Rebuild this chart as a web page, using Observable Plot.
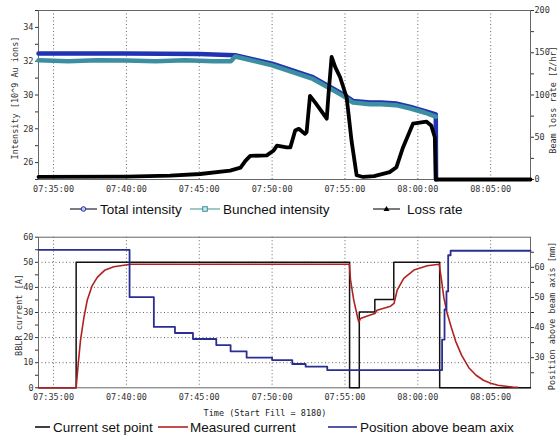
<!DOCTYPE html>
<html><head><meta charset="utf-8">
<script src="https://cdn.jsdelivr.net/npm/d3@7"></script>
<script src="https://cdn.jsdelivr.net/npm/@observablehq/plot@0.6"></script>
<style>
body{margin:0;background:#fff;}
#wrap{position:relative;width:559px;height:436px;overflow:hidden;background:#fff;}
.layer{position:absolute;left:0;}
.ytitle{position:absolute;font:8.5px "DejaVu Sans Mono",monospace;color:#333;white-space:nowrap;transform:translate(-50%,-50%) rotate(-90deg);}
.xtitle{position:absolute;font:8.5px "DejaVu Sans Mono",monospace;color:#222;white-space:nowrap;transform:translate(-50%,-50%);}
</style></head>
<body><div id="wrap"></div>
<script>
// ---------- data ----------
const xDomain = ["07:33:58", "08:07:44"];
const xTicks = ["07:35:00","07:40:00","07:45:00","07:50:00","07:55:00","08:00:00","08:05:00"];

// top panel: intensity [10^9 Au ions]
const totalIntensity = [
  ["07:33:58",32.45],["07:40:00",32.45],["07:45:00",32.42],["07:47:28",32.35],["07:50:00",31.85],
  ["07:52:48",31.05],["07:53:50",30.55],["07:54:52",30.05],["07:55:33",29.65],["07:56:43",29.55],
  ["07:57:30",29.55],["07:58:30",29.5],["07:59:30",29.3],["08:00:30",29.05],["08:01:14",28.85],["08:01:15",25.0]
];
const bunchedIntensity = [
  ["07:33:58",32.05],["07:36:00",32.0],["07:38:00",32.06],["07:40:00",32.04],["07:42:00",32.0],
  ["07:44:00",32.05],["07:46:00",32.0],["07:47:10",32.0],["07:47:28",32.28],["07:50:00",31.75],
  ["07:52:48",30.95],["07:53:50",30.45],["07:54:52",29.95],["07:55:33",29.55],["07:56:43",29.45],
  ["07:57:30",29.45],["07:58:30",29.4],["07:59:30",29.2],["08:00:30",28.95],["08:01:14",28.72]
];
// top panel: beam loss rate [Z/hr]
const lossRate = [
  ["07:33:58",3],["07:40:00",3.5],["07:43:00",4.5],["07:45:04",6.5],["07:47:07",10.5],["07:47:50",14],
  ["07:48:10",22],["07:48:30",28],["07:49:38",28.5],["07:50:05",34],["07:50:20",40],["07:51:00",38],
  ["07:51:15",38],["07:51:35",58],["07:51:50",60],["07:52:15",54],["07:52:22",56],["07:52:36",99],
  ["07:53:00",90],["07:53:45",72],["07:53:52",100],["07:54:05",145],["07:54:20",133],["07:54:40",121],
  ["07:55:07",97],["07:55:27",46],["07:55:48",5],["07:56:15",3],["07:57:00",4],["07:58:04",8.7],
  ["07:58:32",14.6],["07:58:59",38],["07:59:40",66],["08:00:35",68.6],["08:00:55",64],["08:01:10",50],
  ["08:01:14",0],["08:07:44",0]
];

// bottom panel: BBLR current [A]
const setPoint = [
  ["07:33:58",0],["07:36:33",50],["07:55:19",0],["07:55:59",30.2],["07:57:03",35.2],
  ["07:58:21",50],["08:01:30",0],["08:07:44",0]
];
const measuredCurrent = [
  ["07:33:58",0],["07:36:33",0],["07:36:42",10],["07:36:51",19],["07:37:05",28],["07:37:19",35],
  ["07:37:38",40.5],["07:38:00",44],["07:38:30",46.8],["07:39:08",48.2],["07:40:17",49.2],
  ["07:55:18",49.2],["07:55:23",42.9],["07:55:36",35],["07:55:53",27.6],["07:55:57",26.2],
  ["07:56:04",27.6],["07:56:32",28.6],["07:57:03",29.6],["07:57:12",30.9],["07:58:08",32.5],
  ["07:58:22",33.6],["07:58:35",38.9],["07:59:02",43.6],["07:59:44",46.9],["08:00:39",48.6],
  ["08:01:28",49.2],["08:01:36",44],["08:01:47",36],["08:02:00",30],["08:02:18",24],["08:02:36",18.5],
  ["08:03:00",13],["08:03:30",8],["08:04:00",5],["08:04:30",3],["08:05:00",1.8],["08:05:30",1],
  ["08:06:30",0.3],["08:06:50",0.2]
];
// bottom panel: position above beam axis [mm]
const position = [
  ["07:33:58",65.8],["07:40:13",50.1],["07:41:53",40.2],["07:43:20",38.2],["07:44:34",36.2],
  ["07:46:10",34.2],["07:47:09",32.1],["07:48:15",30.0],["07:50:00",29.2],["07:51:23",27.9],
  ["07:52:18",27.0],["07:53:47",25.9],["08:01:32",25.9],["08:01:40",36],["08:01:50",46],
  ["08:01:58",52],["08:02:05",64],["08:02:15",65.5],["08:07:44",65.5]
];

// axis ticks
const intensityTicks = [26,28,30,32,34], intensityMinor = [25,27,29,31,33,35];
const lossTicks = [0,50,100,150,200], lossMinor = [25,75,125,175];
const currentTicks = [0,10,20,30,40,50,60], currentMinor = [5,15,25,35,45,55];
const currentGrid = [10,20,30,40,50];
const posTicks = [30,40,50,60], posMinor = [25,35,45,55,65];

// ---------- drawing ----------
const parse = d3.timeParse("%H:%M:%S");
const fmt = d3.timeFormat("%H:%M:%S");
const X = d => parse(d[0]), Y = d => d[1];
const W = 559;
const wrap = document.getElementById("wrap");
const font = {background:"transparent", fontFamily:"'DejaVu Sans Mono', monospace", fontSize:"8.5px", color:"#333", overflow:"visible"};
const xScale = {type:"time", domain: xDomain.map(parse)};
const xOverlay = {type:"time", domain: xDomain.map(parse), axis:null};
const xt = xTicks.map(parse);

function place(svg, top){ svg.classList.add("layer"); svg.style.top = top + "px"; wrap.appendChild(svg); }

const top1 = {width:W, height:200, marginLeft:38, marginRight:29, marginTop:10, marginBottom:21};
place(Plot.plot({...top1, x:xScale, y:{domain:[25,35]}, style:font, marks:[
  Plot.gridX(xt, {stroke:"#666", strokeOpacity:1, strokeDasharray:"1,2.5"}),
  Plot.frame({stroke:"#666"}),
  Plot.axisY(intensityTicks, {tickSize:3, tickPadding:2, label:null}),
  Plot.axisY(intensityMinor, {tickSize:3, tickFormat:()=>"", label:null}),
  Plot.axisX(xt, {tickSize:0, tickPadding:6, tickFormat:fmt, label:null}),
  Plot.line(totalIntensity, {x:X, y:Y, stroke:"#1f33b3", strokeWidth:4.5}),
  Plot.line(bunchedIntensity, {x:X, y:Y, stroke:"#3c8fa0", strokeWidth:4.5})
]}), 0);
place(Plot.plot({...top1, x:xOverlay, y:{domain:[0,200]}, style:font, marks:[
  Plot.axisY(lossTicks, {anchor:"right", tickSize:3, tickPadding:1, label:null}),
  Plot.axisY(lossMinor, {anchor:"right", tickSize:3, tickFormat:()=>"", label:null}),
  Plot.line(lossRate, {x:X, y:Y, stroke:"#000", strokeWidth:3.8})
]}), 0);

const bot = {width:W, height:200, marginLeft:38, marginRight:29, marginTop:11.7, marginBottom:37.7};
place(Plot.plot({...bot, x:xScale, y:{domain:[0,60]}, style:font, marks:[
  Plot.gridX(xt, {stroke:"#666", strokeOpacity:1, strokeDasharray:"1,2.5"}),
  Plot.gridY(currentGrid, {stroke:"#666", strokeOpacity:1, strokeDasharray:"1,2.5"}),
  Plot.frame({stroke:"#666"}),
  Plot.axisY(currentTicks, {tickSize:3, tickPadding:2, label:null}),
  Plot.axisY(currentMinor, {tickSize:3, tickFormat:()=>"", label:null}),
  Plot.axisX(xt, {tickSize:0, tickPadding:6, tickFormat:fmt, label:null}),
  Plot.line(setPoint, {x:X, y:Y, curve:"step-after", stroke:"#111", strokeWidth:1.5}),
  Plot.line(measuredCurrent, {x:X, y:Y, stroke:"#b02222", strokeWidth:1.6})
]}), 225);
place(Plot.plot({...bot, x:xOverlay, y:{domain:[20,70]}, style:font, marks:[
  Plot.axisY(posTicks, {anchor:"right", tickSize:3, tickPadding:1, label:null}),
  Plot.axisY(posMinor, {anchor:"right", tickSize:3, tickFormat:()=>"", label:null}),
  Plot.line(position, {x:X, y:Y, curve:"step-after", stroke:"#2a2e92", strokeWidth:1.8})
]}), 225);

// axis titles
function title(cls, text, x, y){ const d=document.createElement("div"); d.className=cls; d.textContent=text; d.style.left=x+"px"; d.style.top=y+"px"; wrap.appendChild(d); }
title("ytitle","Intensity [10^9 Au ions]",15,98);
title("ytitle","BBLR current [A]",18.5,315);
title("ytitle","Beam loss rate [Z/hr]",553,100);
title("ytitle","Position above beam axis [mm]",552,316);
title("xtitle","Time (Start Fill = 8180)",265,413);

// legends
const ns="http://www.w3.org/2000/svg";
const lg=document.createElementNS(ns,"svg");
lg.setAttribute("width",W); lg.setAttribute("height",436);
lg.style.position="absolute"; lg.style.left="0"; lg.style.top="0";
function el(tag, attrs, txt){ const e=document.createElementNS(ns,tag); for(const k in attrs) e.setAttribute(k,attrs[k]); if(txt) e.textContent=txt; lg.appendChild(e); return e; }
const legendTop = [
  {x1:70,x2:97,tx:100,label:"Total intensity",stroke:"#334",sym:"circle",fill:"#1f33b3"},
  {x1:190,x2:220,tx:223,label:"Bunched intensity",stroke:"#6aa",sym:"square",fill:"#3c8fa0"},
  {x1:373,x2:400,tx:407,label:"Loss rate",stroke:"#333",sym:"triangle",fill:"#000"}
];
legendTop.forEach(d=>{
  const y=209, cx=(d.x1+d.x2)/2;
  el("line",{x1:d.x1,x2:d.x2,y1:y,y2:y,stroke:d.stroke,"stroke-width":1.3});
  if(d.sym==="circle") el("circle",{cx,cy:y,r:2.3,fill:"#c8c8e8",stroke:d.fill,"stroke-width":1});
  if(d.sym==="square") el("rect",{x:cx-2.3,y:y-2.3,width:4.6,height:4.6,fill:"#cfe6ea",stroke:d.fill,"stroke-width":1});
  if(d.sym==="triangle") el("path",{d:`M${cx},${y-3}L${cx+3},${y+2}L${cx-3},${y+2}Z`,fill:d.fill});
  el("text",{x:d.tx,y:y+5,"font-family":"'Liberation Sans',Arial,sans-serif","font-size":"13.5px",fill:"#111"},d.label);
});
const legendBottom = [
  {x1:35,x2:50,tx:53,label:"Current set point",stroke:"#111"},
  {x1:158,x2:188,tx:190,label:"Measured current",stroke:"#b02222"},
  {x1:328,x2:357,tx:360,label:"Position above beam axix",stroke:"#2a2e92"}
];
legendBottom.forEach(d=>{
  const y=427;
  el("line",{x1:d.x1,x2:d.x2,y1:y,y2:y,stroke:d.stroke,"stroke-width":1.6});
  el("text",{x:d.tx,y:y+5,"font-family":"'Liberation Sans',Arial,sans-serif","font-size":"13.5px",fill:"#111"},d.label);
});
wrap.appendChild(lg);
</script>
</body></html>
